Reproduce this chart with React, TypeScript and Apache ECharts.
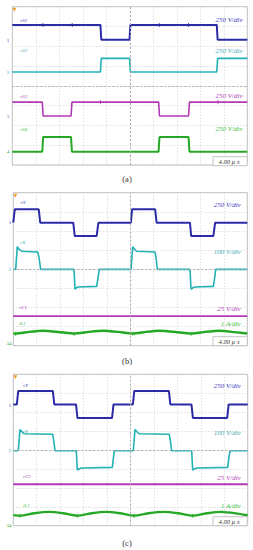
import React, { useEffect, useRef } from "react";
import * as echarts from "echarts";

// time axis: 10 divisions x 4.00 µs ; vertical: 8 divisions (values in divisions from bottom)
const TIME_MAX = 40;
const TIME_STEP = 4;
const DIV_MAX = 8;

// ---------- panel (a) ----------
const aVS1 = [[0, 7.08], [15, 7.08], [15.15, 6.33], [19.95, 6.33], [20.1, 7.08], [34.8, 7.08], [34.95, 6.33], [40, 6.33]];
const aVS2 = [[0, 4.7], [15, 4.7], [15.15, 5.39], [19.95, 5.39], [20.1, 4.7], [34.8, 4.7], [34.95, 5.39], [40, 5.39]];
const aVS3 = [[0, 3.18], [5.1, 3.18], [5.25, 2.48], [10.0, 2.48], [10.15, 3.18], [24.9, 3.18], [25.05, 2.48], [30.0, 2.48], [30.15, 3.18], [40, 3.18]];
const aVS4 = [[0, 0.67], [5.1, 0.67], [5.25, 1.41], [10.0, 1.41], [10.15, 0.67], [24.9, 0.67], [25.05, 1.41], [30.0, 1.41], [30.15, 0.67], [40, 0.67]];
const aTicks1 = [[5.2, 7.08], [10.2, 7.08], [25.0, 7.08], [30.0, 7.08]];
const aTicks3 = [[15.0, 3.18], [35.0, 3.18]];

// ---------- panel (b) ----------
const bVY = [[0, 6.43], [0.1, 6.43], [0.25, 7.13], [4.35, 7.13], [4.6, 6.43], [10.25, 6.43], [10.5, 5.74], [14.25, 5.74], [14.55, 6.43], [20.1, 6.43], [20.3, 7.13], [24.25, 7.13], [24.5, 6.43], [30.2, 6.43], [30.4, 5.74], [34.2, 5.74], [34.5, 6.43], [40, 6.43]];
const bVX = [[0, 3.99], [0.41, 3.99], [0.68, 5.18], [0.95, 5.05], [1.44, 4.94], [4.17, 4.9], [4.4, 4.6], [4.68, 3.99], [10.38, 3.99], [10.55, 2.96], [10.8, 3.03], [11.06, 3.07], [14.26, 3.1], [14.45, 3.5], [14.7, 3.99], [20.12, 3.99], [20.41, 5.18], [20.7, 5.05], [21.09, 4.94], [24.22, 4.9], [24.4, 4.6], [24.62, 3.99], [30.2, 3.99], [30.38, 2.96], [30.7, 3.03], [31.06, 3.07], [34.19, 3.1], [34.4, 3.5], [34.6, 3.99], [40, 3.99]];
const bVC1 = [[0, 1.55], [40, 1.55]];
const bIL1 = [[0, 0.64], [0.4, 0.63], [2.7, 0.72], [5, 0.78], [7.7, 0.72], [10.4, 0.63], [12.9, 0.72], [15.3, 0.78], [17.9, 0.72], [20.45, 0.63], [22.7, 0.72], [25, 0.78], [27.7, 0.72], [30.4, 0.63], [32.8, 0.72], [35.2, 0.78], [37.8, 0.71], [40, 0.64]];
const bTicksIL = [[0.4, 0.63], [10.4, 0.63], [20.45, 0.63], [30.4, 0.63]];

// ---------- panel (c) ----------
const cVY = [[0, 6.41], [0.6, 6.41], [0.85, 7.12], [6.75, 7.12], [7.0, 6.41], [10.7, 6.41], [10.95, 5.69], [16.85, 5.69], [17.1, 6.41], [20.4, 6.41], [20.65, 7.12], [26.55, 7.12], [26.8, 6.41], [30.4, 6.41], [30.65, 5.69], [36.5, 5.69], [36.75, 6.41], [40, 6.41]];
const cVX = [[0, 3.96], [0.85, 3.96], [1.14, 5.09], [1.4, 4.98], [1.83, 4.86], [6.72, 4.83], [6.9, 4.5], [7.12, 3.96], [10.75, 3.96], [10.92, 2.94], [11.2, 3.0], [11.67, 3.05], [16.9, 3.08], [17.05, 3.5], [17.24, 3.96], [20.48, 3.96], [20.77, 5.09], [21.05, 4.98], [21.45, 4.86], [26.62, 4.83], [26.8, 4.5], [27.03, 3.96], [30.44, 3.96], [30.61, 2.94], [30.9, 3.0], [31.3, 3.05], [36.58, 3.08], [36.75, 3.5], [36.98, 3.96], [40, 3.96]];
const cVC1 = [[0, 2.19], [40, 2.19]];
const cIL1 = [[0, 0.56], [1.14, 0.53], [3.6, 0.66], [6, 0.73], [8.5, 0.66], [10.92, 0.53], [13.4, 0.66], [15.8, 0.73], [18.2, 0.66], [20.6, 0.53], [23.1, 0.66], [25.6, 0.73], [28.1, 0.66], [30.61, 0.53], [33.1, 0.66], [35.5, 0.73], [38, 0.65], [40, 0.55]];
const cTicksIL = [[1.14, 0.53], [10.92, 0.53], [20.6, 0.53], [30.61, 0.53]];

// labels
const aNames = ["vS1", "vS2", "vS3", "vS4"];
const aScales = ["250 V/div", "250 V/div", "250 V/div", "250 V/div"];
const bcNames = ["vY", "vX", "vC1", "iL1"];
const bcScales = ["250 V/div", "100 V/div", "25 V/div", "1 A/div"];
const timeBase = "4.00 µ s";
const captions = ["(a)", "(b)", "(c)"];

const BLUE = "#2b2ba6";
const CYAN = "#22b2b4";
const MAGENTA = "#b23ab4";
const GREEN = "#25a825";
const TXT = { blue: "#3c3cbc", cyan: "#46aab4", magenta: "#b244b8", green: "#44c044" };

const panels = [
  { left: 12.3, top: 6.7, width: 235, height: 158.3 },
  { left: 13.3, top: 192.7, width: 234, height: 153 },
  { left: 13.3, top: 374.3, width: 234.4, height: 151.4 },
];

function buildOption() {
  const grid = panels.map((p) => ({ ...p, show: true, borderColor: "#bdbdbd", borderWidth: 1, backgroundColor: "transparent" }));
  const xAxis = panels.map((_, i) => ({
    gridIndex: i, type: "value", min: 0, max: TIME_MAX, interval: TIME_STEP,
    axisLabel: { show: false }, axisTick: { show: false }, axisLine: { show: false },
    splitLine: { show: true, lineStyle: { color: "#d2d2d2", type: [1, 2], width: 1 } },
  }));
  const yAxis = panels.map((_, i) => ({
    gridIndex: i, type: "value", min: 0, max: DIV_MAX, interval: 1,
    axisLabel: { show: false }, axisTick: { show: false }, axisLine: { show: false },
    splitLine: { show: true, lineStyle: { color: "#d2d2d2", type: [1, 2], width: 1 } },
  }));

  const centre = {
    silent: true, symbol: "none", label: { show: false },
    lineStyle: { color: "#ababab", type: [2, 2], width: 1 },
    data: [{ xAxis: TIME_MAX / 2 }, { yAxis: DIV_MAX / 2 }],
  };

  const line = (idx: number, data: number[][], color: string, width: number, extra: any = {}) => ({
    type: "line", xAxisIndex: idx, yAxisIndex: idx, data, showSymbol: false, symbol: "none",
    lineStyle: { color, width }, itemStyle: { color }, silent: true, ...extra,
  });
  const ticks = (idx: number, data: number[][], color: string) => ({
    type: "scatter", xAxisIndex: idx, yAxisIndex: idx, data, symbol: "rect", symbolSize: [1, 4],
    itemStyle: { color }, silent: true, z: 3,
  });

  const series: any[] = [
    line(0, aVS1, BLUE, 2, { markLine: centre }),
    line(0, aVS2, CYAN, 1.6),
    line(0, aVS3, MAGENTA, 1.6),
    line(0, aVS4, GREEN, 2),
    ticks(0, aTicks1, BLUE),
    ticks(0, aTicks3, MAGENTA),
    line(1, bVY, BLUE, 2, { markLine: centre }),
    line(1, bVX, CYAN, 1.6),
    line(1, bVC1, MAGENTA, 1.8),
    line(1, bIL1, GREEN, 2.4, { smooth: 0.2 }),
    ticks(1, bTicksIL, GREEN),
    line(2, cVY, BLUE, 2, { markLine: centre }),
    line(2, cVX, CYAN, 1.6),
    line(2, cVC1, MAGENTA, 1.8),
    line(2, cIL1, GREEN, 2.4, { smooth: 0.2 }),
    ticks(2, cTicksIL, GREEN),
  ];

  const serif = "'Liberation Serif', 'DejaVu Serif', serif";
  const txt = (text: string, x: number, y: number, fill: string, size: number, align = "left", italic = true) => ({
    type: "text", x, y, silent: true, z: 10,
    style: {
      text, fill, fontSize: size, fontFamily: serif, fontStyle: italic ? "italic" : "normal",
      align, verticalAlign: "middle", textAlign: align, textVerticalAlign: "middle",
    },
  });

  const colsTxt = [TXT.blue, TXT.cyan, TXT.magenta, TXT.green];
  const g: any[] = [];
  const aNameY = [20.7, 50.7, 96, 129];
  const aScaleY = [20, 51.3, 96, 129];
  aNames.forEach((n, i) => {
    g.push(txt(n, 20, aNameY[i], colsTxt[i], 5));
    g.push(txt(aScales[i], 242.5, aScaleY[i], colsTxt[i], 7, "right"));
  });
  const bNameY = [202.7, 242, 307.7, 323.3];
  const bScaleY = [205, 251.7, 309, 324.3];
  const bNameX = [20.5, 20, 19, 19];
  const cNameY = [385, 431, 476.7, 505];
  const cScaleY = [386, 433.3, 477.7, 506];
  const cNameX = [23, 22.5, 23, 23];
  bcNames.forEach((n, i) => {
    g.push(txt(n, bNameX[i], bNameY[i], colsTxt[i], 5));
    g.push(txt(bcScales[i], 240.7, bScaleY[i], colsTxt[i], 7, "right"));
    g.push(txt(n, cNameX[i], cNameY[i], colsTxt[i], 5));
    g.push(txt(bcScales[i], 240.7, cScaleY[i], colsTxt[i], 7, "right"));
  });
  const boxTop = [156.7, 336.7, 516.7];
  boxTop.forEach((y) => {
    g.push({ type: "rect", silent: true, z: 9, shape: { x: 213, y, width: 34.3, height: 9 }, style: { fill: "#ffffff", stroke: "#c4c4c4", lineWidth: 1 } });
    g.push(txt(timeBase, 239.5, y + 4.5, "#333333", 6.5, "right"));
  });
  const gm = [
    ["1", 8, 40.3, BLUE], ["2", 8, 72, CYAN], ["3", 8, 116.7, MAGENTA], ["4", 8, 151.7, GREEN],
    ["1", 10, 222.7, BLUE], ["2", 10, 269.3, CYAN], ["34", 9, 343.5, GREEN],
    ["1", 10, 405, BLUE], ["2", 10, 450.7, CYAN], ["34", 9, 525, GREEN],
  ];
  gm.forEach(([t, x, y, c]) => g.push(txt(t as string, x as number, y as number, c as string, 5, "center", false)));
  [6.7, 192.7, 374.3].forEach((y, i) => {
    const x = panels[i].left + 1;
    g.push({ type: "polygon", silent: true, z: 10, shape: { points: [[x - 1, y + 1], [x + 3, y + 1], [x + 1, y + 5]] }, style: { fill: "#f0a030" } });
  });
  const capY = [179, 361, 542.7];
  captions.forEach((c, i) => g.push(txt(c, 127, capY[i], "#333333", 8.5, "center", false)));

  return { animation: false, backgroundColor: "#ffffff", grid, xAxis, yAxis, series, graphic: g };
}

export default function App() {
  const ref = useRef<HTMLDivElement>(null);
  useEffect(() => {
    const chart = echarts.init(ref.current!, null, { renderer: "svg" });
    chart.setOption(buildOption() as any);
    return () => chart.dispose();
  }, []);
  return <div ref={ref} style={{ position: "absolute", left: 0, top: 0, width: 253, height: 550 }} />;
}
